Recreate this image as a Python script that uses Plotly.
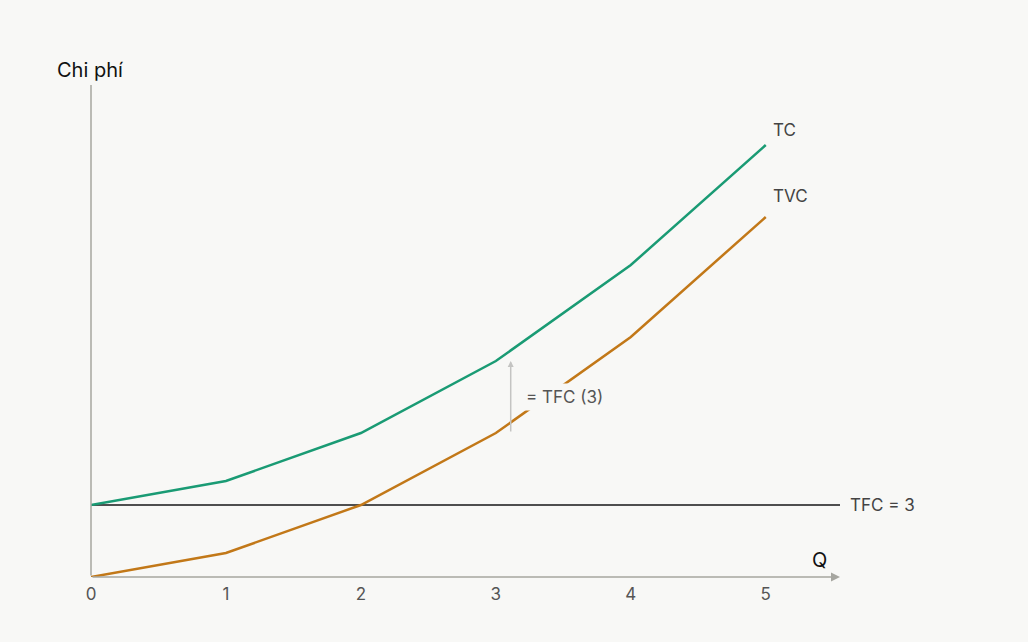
import plotly.graph_objects as go

# Data
q = [0, 1, 2, 3, 4, 5]
tvc = [0, 1, 3, 6, 10, 15]
tfc = 3
tc = [v + tfc for v in tvc]
x_ticks = [0, 1, 2, 3, 4, 5]
q_max = 5.55
cost_max = 20.5

BG = "#f8f8f6"
FONT = "Inter, Roboto, sans-serif"
GREEN = "#1a9b74"
ORANGE = "#c27818"
AXIS = "#a6a6a0"

fig = go.Figure()

# TFC horizontal line
fig.add_trace(go.Scatter(
    x=[0, q_max], y=[tfc, tfc],
    mode="lines", line=dict(color="#4f4f4f", width=2),
    hoverinfo="skip", showlegend=False
))

# TVC
fig.add_trace(go.Scatter(
    x=q, y=tvc, mode="lines", name="TVC",
    line=dict(color=ORANGE, width=2.5), showlegend=False
))

# TC
fig.add_trace(go.Scatter(
    x=q, y=tc, mode="lines", name="TC",
    line=dict(color=GREEN, width=2.5), showlegend=False
))

ann = []
# axes drawn by hand
ann.append(dict(x=q_max, y=0, ax=0, ay=0, xref="x", yref="y", axref="x", ayref="y",
                text="", showarrow=True, arrowhead=2, arrowsize=1.2, arrowwidth=1.5,
                arrowcolor=AXIS))
ann.append(dict(x=0, y=cost_max, ax=0, ay=0, xref="x", yref="y", axref="x", ayref="y",
                text="", showarrow=True, arrowhead=0, arrowwidth=1.5,
                arrowcolor=AXIS))
# gap arrow at Q = 3
qa = 3.11
ann.append(dict(x=qa, y=tc[3], ax=qa, ay=tvc[3], xref="x", yref="y", axref="x", ayref="y",
                text="", showarrow=True, arrowhead=2, arrowsize=0.8, arrowwidth=1.5,
                arrowcolor="#c4c4c2"))
ann.append(dict(x=3.19, y=(tc[3] + tvc[3]) / 2, xref="x", yref="y", text="= TFC (3)",
                showarrow=False, xanchor="left", yanchor="middle", bgcolor=BG,
                borderpad=3, font=dict(size=17, color="#555555", family=FONT)))
# curve labels
ann.append(dict(x=5.04, y=tc[-1] + 0.62, xref="x", yref="y", text="TC",
                showarrow=False, xanchor="left", yanchor="middle",
                font=dict(size=17, color="#444444", family=FONT)))
ann.append(dict(x=5.04, y=tvc[-1] + 0.87, xref="x", yref="y", text="TVC",
                showarrow=False, xanchor="left", yanchor="middle",
                font=dict(size=17, color="#444444", family=FONT)))
ann.append(dict(x=1.011, y=tfc / cost_max, xref="paper", yref="paper", text="TFC = 3",
                showarrow=False, xanchor="left", yanchor="middle",
                font=dict(size=17, color="#444444", family=FONT)))
# axis titles
ann.append(dict(x=5.4, y=0.72, xref="x", yref="y", text="Q",
                showarrow=False, xanchor="center", yanchor="middle",
                font=dict(size=20, color="#111111", family=FONT)))
ann.append(dict(x=-0.048, y=1.03, xref="paper", yref="paper", text="Chi phí",
                showarrow=False, xanchor="left", yanchor="middle",
                font=dict(size=20, color="#111111", family=FONT)))

fig.update_layout(
    width=1028, height=642,
    paper_bgcolor=BG, plot_bgcolor=BG,
    margin=dict(l=91, r=188, t=85, b=65),
    font=dict(family=FONT),
    annotations=ann,
    hovermode=False,
)
fig.update_xaxes(
    range=[0, q_max], showgrid=False, zeroline=False, showline=False,
    tickmode="array", tickvals=x_ticks, ticktext=[str(t) for t in x_ticks],
    tickfont=dict(size=17, color="#555555", family=FONT), ticks="",
    ticklabelstandoff=5,
)
fig.update_yaxes(
    range=[0, cost_max], showgrid=False, zeroline=False, showline=False,
    showticklabels=False, ticks="",
)

# drop the page margin so the figure fills the window
fig.write_html("out.html", config={"displayModeBar": False},
               post_script="document.body.style.margin='0';"
                           "document.body.style.background='" + BG + "';")
